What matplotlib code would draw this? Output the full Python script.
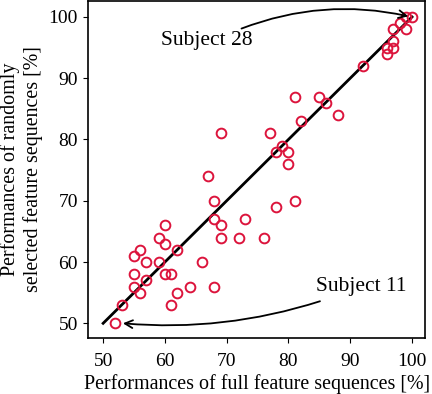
#!/usr/bin/env python3
"""Per-subject performance: full vs randomly selected feature sequences."""

import matplotlib

matplotlib.use("Agg")
import matplotlib.pyplot as plt

# full-sequence performance (x) and random-subset performance (y), per subject
full_perf = [
    100, 99, 98, 97, 99, 97, 97, 96, 96, 92,
    81, 85, 86, 82, 88, 69, 77, 79, 78, 80,
    80, 67, 68, 81, 78, 68, 73, 69, 69, 72,
    76, 60, 59, 60, 62, 56, 55, 57, 59, 66,
    55, 60, 61, 57, 55, 64, 68, 56, 62, 53,
    61, 52,
]
random_perf = [
    100, 100, 99, 98, 98, 96, 95, 95, 94, 92,
    87, 87, 86, 83, 84, 81, 81, 79, 78, 78,
    76, 74, 70, 70, 69, 67, 67, 66, 64, 64,
    64, 66, 64, 63, 62, 62, 61, 60, 60, 60,
    58, 58, 58, 57, 56, 56, 56, 55, 55, 53,
    53, 50,
]
ref_line = [50, 100]

plt.rcParams["font.family"] = ["Liberation Serif", "DejaVu Serif"]
plt.rcParams["font.size"] = 14

fig = plt.figure(figsize=(4.32, 3.94), dpi=100)
ax = fig.add_axes([0.2044, 0.1421, 0.7794, 0.8554])

ax.plot(ref_line, ref_line, color="black", linewidth=2)
ax.plot(full_perf, random_perf, linestyle="none", marker="o", markersize=7,
        markerfacecolor="none", markeredgecolor="#dc143c", markeredgewidth=1.4)

arrow = dict(arrowstyle="->", color="black", lw=1.3, shrinkA=0, shrinkB=0)
ax.annotate("", xy=(99.4, 100.1), xytext=(72.4, 98.1),
            arrowprops=dict(arrow, connectionstyle="arc3,rad=-0.15"))
ax.text(66.8, 96.2, "Subject 28", ha="center", va="center", fontsize=15.5)
ax.annotate("", xy=(53.2, 50.0), xytext=(85.1, 53.6),
            arrowprops=dict(arrow, connectionstyle="arc3,rad=-0.1"))
ax.text(91.8, 56.0, "Subject 11", ha="center", va="center", fontsize=15.5)

ax.set_xlim(47.6, 102.1)
ax.set_ylim(47.6, 102.6)
ax.set_xticks([50, 60, 70, 80, 90, 100])
ax.set_yticks([50, 60, 70, 80, 90, 100])
ax.tick_params(axis="x", pad=7)
ax.tick_params(axis="y", pad=4)
ax.set_xlabel("Performances of full feature sequences [%]", fontsize=14.4,
              labelpad=3)
ax.set_ylabel("Performances of randomly\nselected feature sequences [%]",
              fontsize=14.4, labelpad=4)
for sp in ax.spines.values():
    sp.set_linewidth(1.2)

fig.savefig("out.png", dpi=100)
